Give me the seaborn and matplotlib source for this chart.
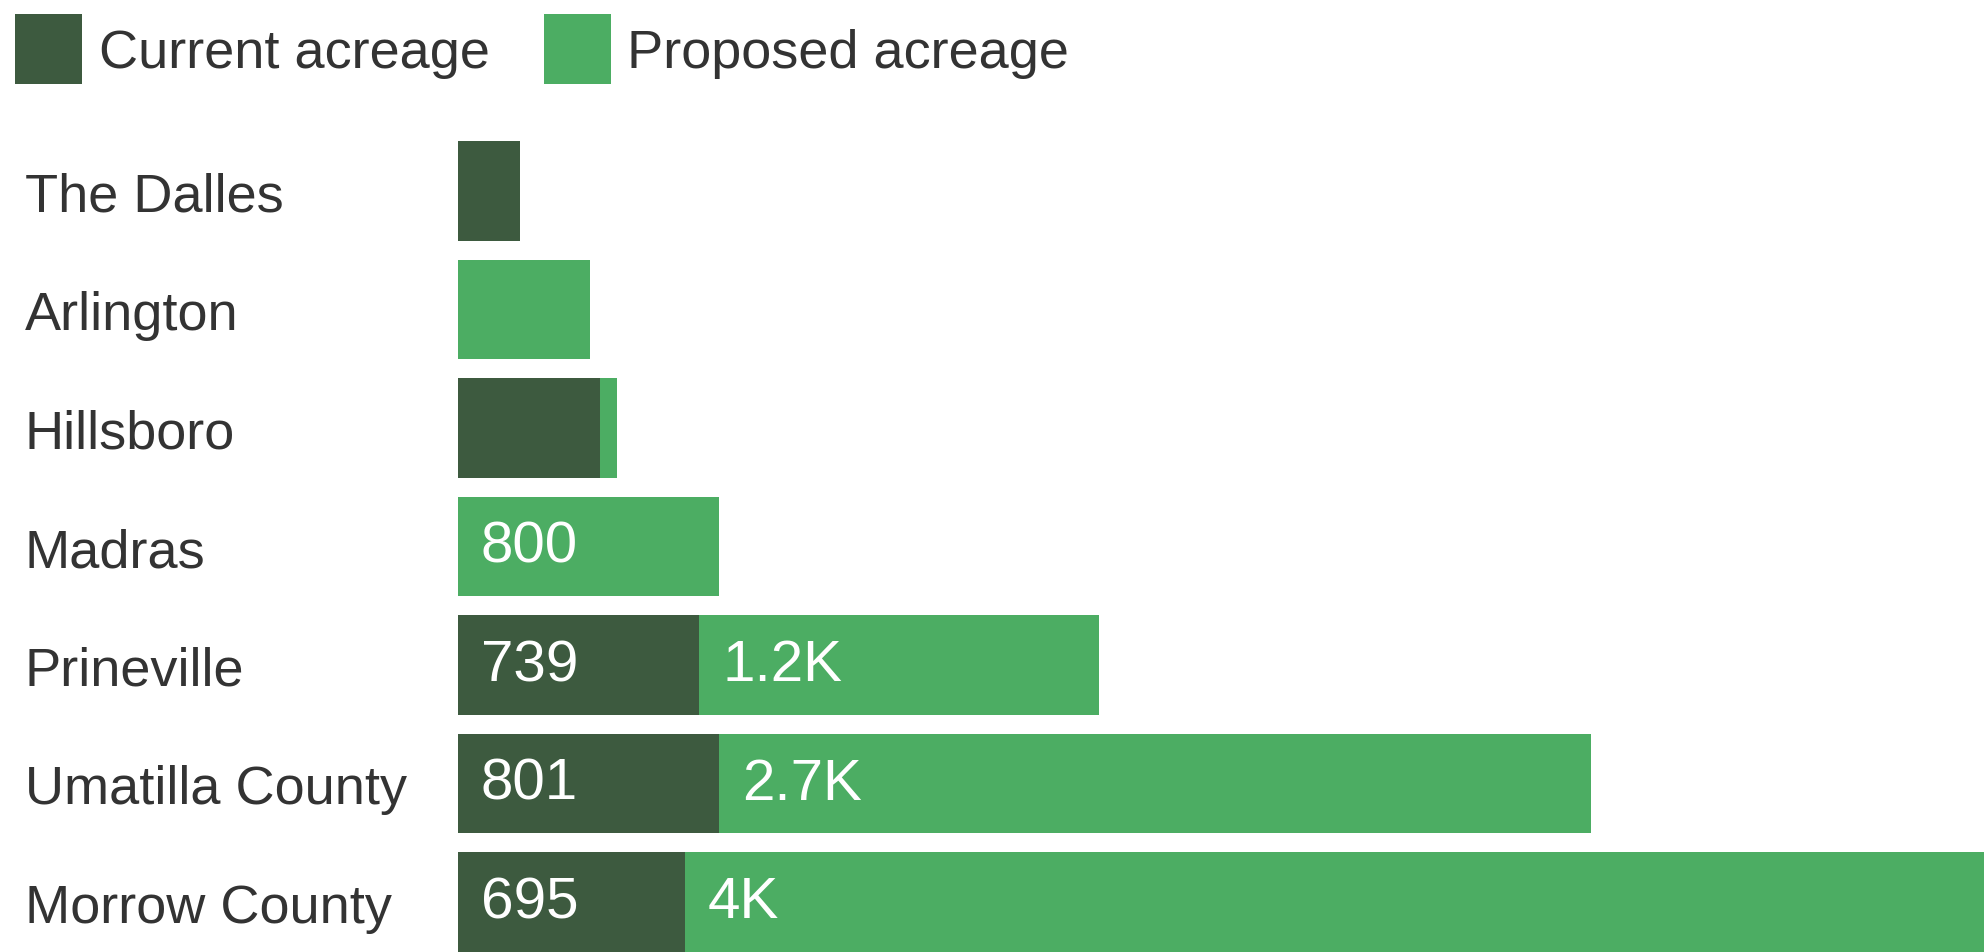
import numpy as np
import pandas as pd
import matplotlib
matplotlib.use("Agg")
import matplotlib.pyplot as plt
from matplotlib.patches import Patch
import seaborn as sns

# Data (acres)
cities = ["The Dalles", "Arlington", "Hillsboro", "Madras",
          "Prineville", "Umatilla County", "Morrow County"]
current_acres = [190, 0, 436, 0, 739, 801, 695]
proposed_acres = [0, 405, 50, 800, 1225, 2670, 3990]
series_labels = ["Current acreage", "Proposed acreage"]

DARK = "#3d5a3f"
LIGHT = "#4cad63"
TEXT = "#333333"


def fmt_acres(v):
    if v >= 1000:
        s = f"{v / 1000:.1f}".rstrip("0").rstrip(".")
        return s + "K"
    return f"{v:.0f}"


df = pd.DataFrame({"city": cities, "current": current_acres, "proposed": proposed_acres})
df["total"] = df["current"] + df["proposed"]

sns.set_theme(style="white")
plt.rcParams["font.family"] = ["Liberation Sans", "DejaVu Sans"]

fig = plt.figure(figsize=(19.84, 9.53), dpi=100)
fig.patch.set_facecolor("white")
ax = fig.add_axes([0.2308, 0.0, 0.7692, 0.8605])

# stacked bars: total in light, current drawn over it in dark
sns.barplot(data=df, x="total", y="city", color=LIGHT, orient="h",
            width=0.84, saturation=1, linewidth=0, edgecolor="none", ax=ax)
sns.barplot(data=df, x="current", y="city", color=DARK, orient="h",
            width=0.84, saturation=1, linewidth=0, edgecolor="none", ax=ax)

ax.set_xlim(0, 4674)
ax.set_ylim(6.42, -0.5)
ax.set_xlabel("")
ax.set_ylabel("")
ax.set_xticks([])
sns.despine(ax=ax, left=True, bottom=True)

# category labels, left aligned near the figure edge
ax.tick_params(axis="y", length=0, pad=312, labelsize=39, labelcolor=TEXT)
for lab in ax.get_yticklabels():
    lab.set_horizontalalignment("left")

# value labels inside segments wide enough to hold them
min_show = 600
for i, row in df.iterrows():
    if row["current"] >= min_show:
        ax.annotate(fmt_acres(row["current"]), (0, i), xytext=(16.5, 0),
                    textcoords="offset points", ha="left", va="center",
                    color="white", fontsize=42)
    if row["proposed"] >= min_show:
        ax.annotate(fmt_acres(row["proposed"]), (row["current"], i), xytext=(16.5, 0),
                    textcoords="offset points", ha="left", va="center",
                    color="white", fontsize=42)

handles = [Patch(facecolor=DARK, edgecolor="none"), Patch(facecolor=LIGHT, edgecolor="none")]
fig.legend(handles, series_labels, loc="upper left", bbox_to_anchor=(0.0, 1.0),
           ncol=2, frameon=False, fontsize=39, labelcolor=TEXT,
           handlelength=1.24, handleheight=1.62, handletextpad=0.3,
           columnspacing=1.0, borderaxespad=0, borderpad=0.28)

fig.savefig("out.png", dpi=100, facecolor="white")
